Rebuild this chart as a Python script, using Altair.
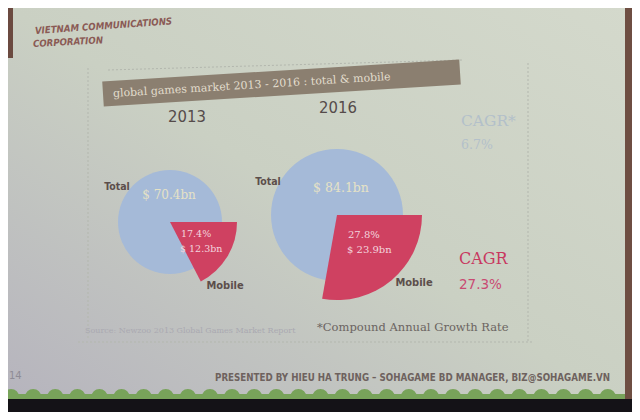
import math
import altair as alt
import pandas as pd

# ---------------- data ----------------
years = ["2013", "2016"]
total_bn = [70.4, 84.1]
mobile_bn = [12.3, 23.9]
mobile_share = [17.4, 27.8]
cagr_total = "6.7%"
cagr_mobile = "27.3%"
title_text = "global games market 2013 - 2016 : total & mobile"
company = ["VIETNAM COMMUNICATIONS", "CORPORATION"]
footnote = "*Compound Annual Growth Rate"
source = "Source: Newzoo 2013 Global Games Market Report"
footer = "PRESENTED BY HIEU HA TRUNG \u2013 SOHAGAME BD MANAGER, BIZ@SOHAGAME.VN"
page_no = "14"

df = pd.DataFrame({"year": years, "total": total_bn, "mobile": mobile_bn, "share": mobile_share})
df["total_label"] = ["$ %.1fbn" % v for v in total_bn]
df["mobile_label"] = ["$ %.1fbn" % v for v in mobile_bn]
df["share_label"] = ["%.1f%%" % v for v in mobile_share]

# ---------------- style ----------------
W, H = 624, 404
BLUE = "#a5bad8"
RED = "#cf4161"
BROWN_TXT = "#5c4e4b"
SERIF = "DejaVu Serif"
NARROW = "Liberation Sans Narrow, DejaVu Sans Condensed, sans-serif"
blank = alt.Data(values=[{"a": 1}])

X = alt.X("year:N", scale=alt.Scale(type="point", domain=years, range=[162, 329], padding=0), axis=None)
Y = alt.Y("year:N", scale=alt.Scale(type="point", domain=years, range=[214, 207], padding=0), axis=None)


def deco_rect(x, x2, y, y2, **kw):
    return alt.Chart(blank).mark_rect(**kw).encode(
        x=alt.value(x), x2=alt.value(x2), y=alt.value(y), y2=alt.value(y2))


def deco_rule(x, y, x2, y2, **kw):
    return alt.Chart(blank).mark_rule(**kw).encode(
        x=alt.value(x), y=alt.value(y), x2=alt.value(x2), y2=alt.value(y2))


def note(text, x, y, **kw):
    return alt.Chart(blank).mark_text(text=text, **kw).encode(x=alt.value(x), y=alt.value(y))


layers = []

# slide background
layers.append(deco_rect(0, W, 0, H, fill=alt.Gradient(
    gradient="linear", x1=1, y1=0, x2=0, y2=1,
    stops=[alt.GradientStop(offset=0, color="#d4d9cc"),
           alt.GradientStop(offset=0.5, color="#cad0c3"),
           alt.GradientStop(offset=1, color="#b5b3bd")])))

# faint dotted container
dot = dict(color="#b3b7ae", strokeDash=[2, 2], strokeWidth=1)
layers.append(deco_rule(80, 60, 80, 330, **dot))
layers.append(deco_rule(70, 334, 525, 334, **dot))
layers.append(deco_rule(520, 55, 520, 334, **dot))
layers.append(deco_rule(100, 62, 455, 52, **dot))

# edges of the projected slide
layers.append(deco_rect(0, 5, 0, 50, color="#6b4a40"))
layers.append(deco_rect(617, W, 0, 392, color="#6e4e42"))

# title band
layers.append(deco_rule(95, 86, 452, 64, color="#8b7f70", strokeWidth=25, strokeCap="butt"))
layers.append(note(title_text, 105, 86, align="left", baseline="middle", angle=356.5,
                   font=SERIF, fontSize=11, color="#e2ddcd"))

# company header
layers.append(note(company[0], 27, 23, align="left", baseline="middle", angle=356,
                   font=NARROW, fontSize=9.6, fontWeight="bold", fontStyle="italic", color="#8a5a55"))
layers.append(note(company[1], 25, 36, align="left", baseline="middle", angle=357,
                   font=NARROW, fontSize=9.6, fontWeight="bold", fontStyle="italic", color="#8a5a55"))

# pies: total circle and exploded mobile sector
layers.append(alt.Chart(df).mark_arc(color=BLUE, theta=0, theta2=2 * math.pi).encode(
    x=X, y=Y,
    radius=alt.Radius("total:Q", stack=False,
                      scale=alt.Scale(type="linear", domain=[min(total_bn), max(total_bn)],
                                      range=[52, 66], zero=False)),
    radius2=alt.value(0)))
layers.append(alt.Chart(df).transform_calculate(t0="25", t1="25 + datum.share").mark_arc(color=RED).encode(
    x=X, y=Y,
    theta=alt.Theta("t0:Q", scale=alt.Scale(domain=[0, 100], range=[0, 2 * math.pi]), stack=False),
    theta2="t1:Q",
    radius=alt.Radius("mobile:Q", stack=False,
                      scale=alt.Scale(type="linear", domain=[min(mobile_bn), max(mobile_bn)],
                                      range=[67, 85], zero=False)),
    radius2=alt.value(0)))


def yl(year, dx, dy, field=None, text=None, **kw):
    c = alt.Chart(df).transform_filter(alt.datum.year == year)
    if text is not None:
        return c.mark_text(text=text, dx=dx, dy=dy, baseline="middle", **kw).encode(x=X, y=Y)
    return c.mark_text(dx=dx, dy=dy, baseline="middle", **kw).encode(x=X, y=Y, text=field)


offs = {
    "2013": dict(year=(17, -105), total=(-53, -35), tlab=(-1, -27), share=(11, 12), mlab=(10, 27), mobile=(55, 64), big=12, small=9.5),
    "2016": dict(year=(1, -107), total=(-69, -33), tlab=(4, -27), share=(11, 20), mlab=(10, 35), mobile=(77, 68), big=12.5, small=10),
}
for yr in years:
    o = offs[yr]
    layers.append(yl(yr, *o["year"], field="year:N", font=NARROW, fontSize=16.5, color="#554b4a"))
    layers.append(yl(yr, *o["total"], text="Total", font=NARROW, fontSize=10.5, fontWeight="bold", color=BROWN_TXT))
    layers.append(yl(yr, *o["tlab"], field="total_label:N", font=SERIF, fontSize=o["big"], color="#e6e2c6"))
    layers.append(yl(yr, *o["share"], field="share_label:N", align="left", font=SERIF, fontSize=o["small"], color="#f3d5de"))
    layers.append(yl(yr, *o["mlab"], field="mobile_label:N", align="left", font=SERIF, fontSize=o["small"], color="#f3d5de"))
    layers.append(yl(yr, *o["mobile"], text="Mobile", font=NARROW, fontSize=11, fontWeight="bold", color=BROWN_TXT))

# CAGR annotations
layers.append(note("CAGR*", 453, 113, align="left", baseline="middle", font=SERIF, fontSize=15.5, color="#b3c0ca"))
layers.append(note(cagr_total, 453, 137, align="left", baseline="middle", font=SERIF, fontSize=12.5, color="#b3c0ca"))
layers.append(note("CAGR", 451, 251, align="left", baseline="middle", font=SERIF, fontSize=16, color="#c8385f"))
layers.append(note(cagr_mobile, 451, 277, align="left", baseline="middle", font="DejaVu Sans", fontSize=13.5, color="#c94a72"))

# footnotes
layers.append(note(source, 77, 323, align="left", baseline="middle", font=SERIF, fontSize=8, color="#aaa9b1"))
layers.append(note(footnote, 309, 320, align="left", baseline="middle", font=SERIF, fontSize=11.5, color="#6b6461"))
layers.append(note(footer, 602, 370, align="right", baseline="middle", font=NARROW, fontSize=9.7, fontWeight="bold", color="#6e625e"))
layers.append(note(page_no, 1, 368, align="left", baseline="middle", font="DejaVu Sans", fontSize=10, color="#8e8c96"))

# wavy green border and dark screen edge
layers.append(deco_rect(0, 617, 386, 391, color="#78a35a"))
layers.append(deco_rule(3, 389, 617, 389, color="#78a35a", strokeWidth=16, strokeCap="round", strokeDash=[0.1, 22]))
layers.append(deco_rect(0, W, 391, H, color="#141217"))

chart = alt.layer(*layers).resolve_scale(radius="independent").properties(
    width=W, height=H, padding=0, autosize=alt.AutoSizeParams(type="none")
).configure_view(strokeWidth=0).configure(background="#c9cec2")

chart.save("out.html", embed_options={"renderer": "svg", "actions": False})
